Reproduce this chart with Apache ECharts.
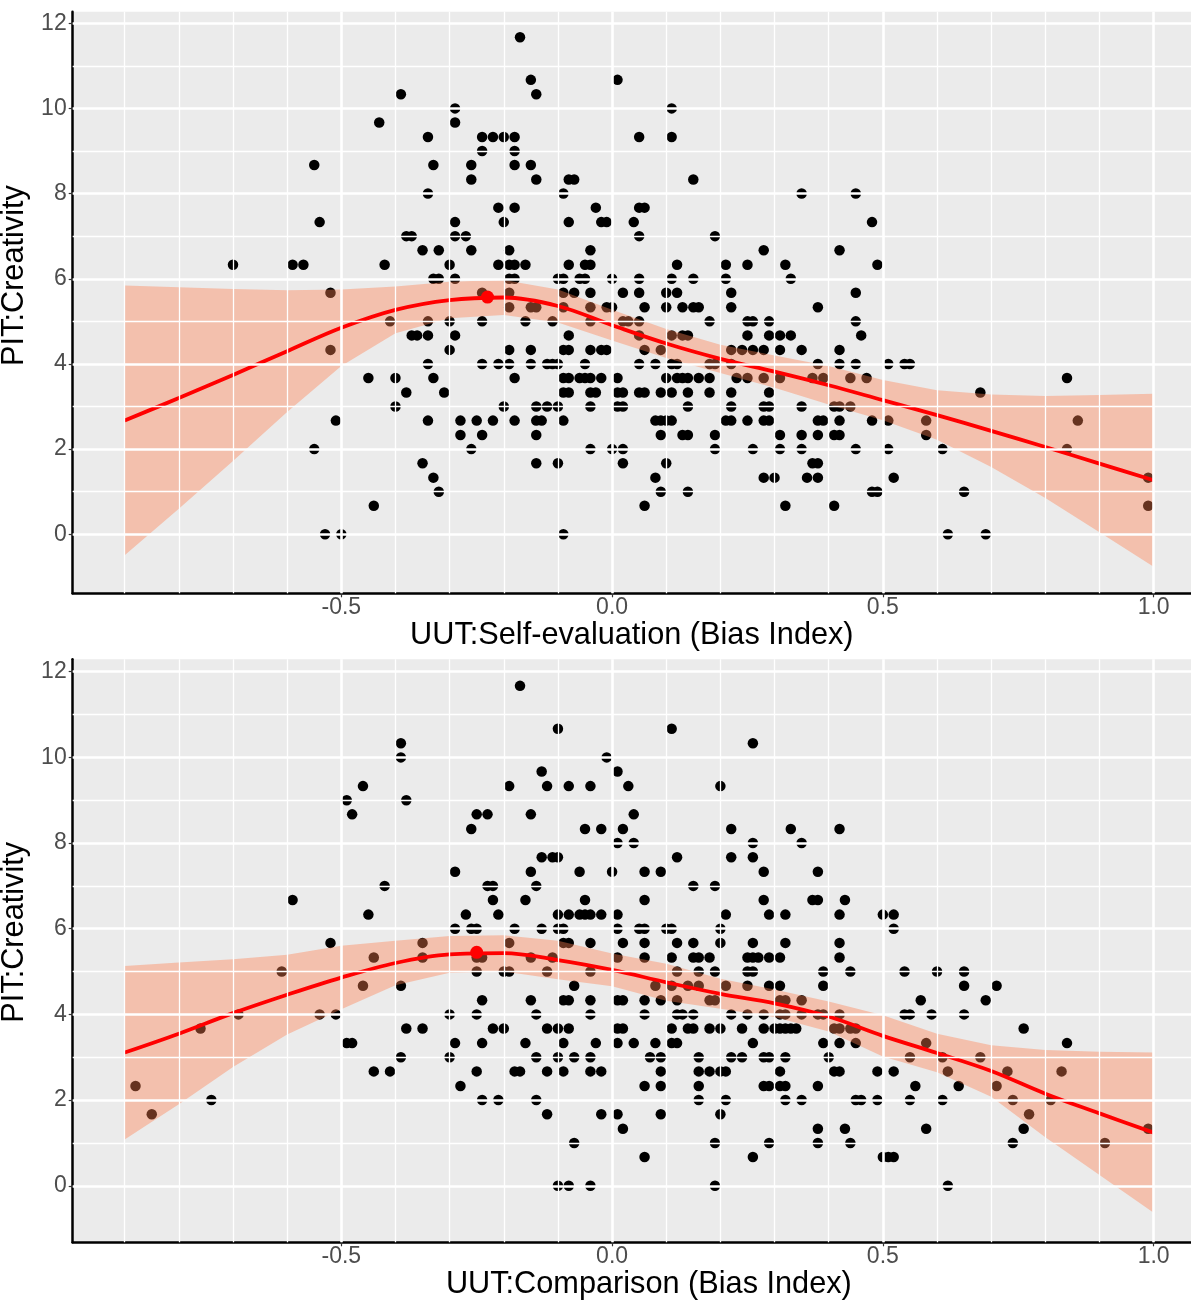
<!DOCTYPE html>
<html>
<head>
<meta charset="utf-8">
<script src="https://cdn.jsdelivr.net/npm/echarts@6/dist/echarts.min.js"></script>
<style>
html, body { margin: 0; padding: 0; background: #fff; }
#main { width: 1191px; height: 1303px; }
</style>
</head>
<body>
<div id="main"></div>
<script>
// PIT level -> bias index values of the students at that level
var selfRows = [
  [11.67, [-0.17]],
  [10.67, [-0.15, 0.01]],
  [10.33, [-0.39, -0.14]],
  [10, [-0.29, 0.11]],
  [9.67, [-0.43, -0.29]],
  [9.33, [-0.34, -0.24, -0.22, -0.2, -0.18, 0.05, 0.11]],
  [9, [-0.24, -0.18]],
  [8.67, [-0.55, -0.33, -0.26, -0.18, -0.15]],
  [8.33, [-0.26, -0.14, -0.08, -0.07, 0.15]],
  [8, [-0.34, -0.09, 0.35, 0.45]],
  [7.67, [-0.21, -0.18, -0.03, 0.05, 0.06]],
  [7.33, [-0.54, -0.29, -0.2, -0.08, -0.02, -0.01, 0.04, 0.48]],
  [7, [-0.38, -0.37, -0.29, -0.27, 0.05, 0.19]],
  [6.67, [-0.35, -0.32, -0.26, -0.19, -0.04, 0.28, 0.42]],
  [6.33, [-0.7, -0.59, -0.57, -0.42, -0.3, -0.21, -0.19, -0.18, -0.16, -0.08, -0.05, -0.04, 0.12, 0.21, 0.25, 0.32, 0.49]],
  [6, [-0.33, -0.32, -0.29, -0.19, -0.18, -0.1, -0.09, -0.06, -0.05, 0, 0.05, 0.11, 0.15, 0.21, 0.33]],
  [5.67, [-0.52, -0.24, -0.19, -0.09, -0.07, -0.04, 0.02, 0.05, 0.1, 0.12, 0.22, 0.45]],
  [5.33, [-0.19, -0.15, -0.14, -0.09, -0.04, -0.01, 0, 0.06, 0.1, 0.13, 0.15, 0.16, 0.22, 0.38]],
  [5, [-0.41, -0.34, -0.3, -0.24, -0.16, -0.11, -0.04, 0.02, 0.03, 0.05, 0.18, 0.25, 0.26, 0.29, 0.45]],
  [4.67, [-0.37, -0.36, -0.34, -0.29, -0.08, 0.05, 0.11, 0.13, 0.14, 0.25, 0.29, 0.31, 0.33, 0.46]],
  [4.33, [-0.52, -0.3, -0.19, -0.15, -0.09, -0.08, -0.04, -0.02, -0.01, 0.06, 0.09, 0.22, 0.24, 0.26, 0.28, 0.31, 0.35, 0.42]],
  [4, [-0.34, -0.24, -0.21, -0.19, -0.15, -0.12, -0.11, -0.1, -0.05, 0.05, 0.08, 0.11, 0.12, 0.18, 0.19, 0.22, 0.38, 0.42, 0.45, 0.51, 0.54, 0.55]],
  [3.67, [-0.45, -0.4, -0.33, -0.18, -0.09, -0.08, -0.06, -0.05, -0.04, -0.02, 0.01, 0.1, 0.12, 0.13, 0.14, 0.16, 0.18, 0.23, 0.25, 0.28, 0.31, 0.37, 0.39, 0.44, 0.47, 0.84]],
  [3.33, [-0.38, -0.31, -0.09, -0.08, -0.04, -0.03, 0.01, 0.02, 0.05, 0.06, 0.09, 0.11, 0.14, 0.18, 0.22, 0.29, 0.68]],
  [3, [-0.4, -0.2, -0.14, -0.12, -0.1, -0.04, 0.01, 0.02, 0.14, 0.22, 0.28, 0.29, 0.35, 0.41, 0.42, 0.44]],
  [2.67, [-0.51, -0.34, -0.28, -0.25, -0.22, -0.18, -0.14, -0.13, -0.09, 0.08, 0.09, 0.1, 0.11, 0.21, 0.22, 0.25, 0.28, 0.29, 0.38, 0.39, 0.42, 0.48, 0.51, 0.58, 0.86]],
  [2.33, [-0.28, -0.24, -0.14, 0.09, 0.13, 0.14, 0.19, 0.31, 0.35, 0.38, 0.41, 0.42, 0.58]],
  [2, [-0.55, -0.26, -0.04, 0, 0.02, 0.19, 0.26, 0.31, 0.35, 0.45, 0.51, 0.61, 0.84]],
  [1.67, [-0.35, -0.14, -0.1, 0.02, 0.1, 0.37, 0.38]],
  [1.33, [-0.33, 0.08, 0.28, 0.3, 0.36, 0.38, 0.52, 0.99]],
  [1, [-0.32, 0.09, 0.14, 0.48, 0.49, 0.65]],
  [0.67, [-0.44, 0.06, 0.32, 0.41, 0.99]],
  [0, [-0.53, -0.5, -0.09, 0.62, 0.69]]
];

var compRows = [
  [11.67, [-0.17]],
  [10.67, [-0.1, 0.11]],
  [10.33, [-0.39, 0.26]],
  [10, [-0.39, -0.01]],
  [9.67, [-0.13, 0.01]],
  [9.33, [-0.46, -0.19, -0.12, -0.08, -0.04, 0.03, 0.2]],
  [9, [-0.49, -0.38]],
  [8.67, [-0.48, -0.25, -0.23, -0.15, 0.04]],
  [8.33, [-0.26, -0.05, -0.02, 0.02, 0.22, 0.33, 0.42]],
  [8, [0.01, 0.04, 0.26, 0.35]],
  [7.67, [-0.13, -0.11, -0.1, 0.12, 0.22, 0.26]],
  [7.33, [-0.29, -0.15, -0.06, 0, 0.06, 0.09, 0.28, 0.38]],
  [7, [-0.42, -0.23, -0.22, -0.14, 0.15, 0.19]],
  [6.67, [-0.59, -0.22, -0.16, -0.05, 0.06, 0.28, 0.37, 0.38, 0.43]],
  [6.33, [-0.45, -0.27, -0.21, -0.1, -0.08, -0.06, -0.05, -0.04, -0.02, 0.01, 0.21, 0.29, 0.32, 0.42, 0.5, 0.52]],
  [6, [-0.29, -0.26, -0.25, -0.18, -0.13, -0.1, -0.09, 0.01, 0.05, 0.06, 0.1, 0.11, 0.2, 0.52]],
  [5.67, [-0.52, -0.35, -0.19, -0.09, -0.08, -0.04, 0.02, 0.06, 0.12, 0.15, 0.2, 0.26, 0.32, 0.42]],
  [5.33, [-0.44, -0.35, -0.25, -0.24, -0.15, -0.11, 0.01, 0.06, 0.11, 0.15, 0.16, 0.18, 0.25, 0.26, 0.27, 0.29, 0.31, 0.42]],
  [5, [-0.61, -0.25, -0.2, -0.19, -0.12, -0.04, 0.12, 0.16, 0.19, 0.25, 0.26, 0.39, 0.44, 0.54, 0.6, 0.65]],
  [4.67, [-0.46, -0.39, -0.07, 0.08, 0.11, 0.14, 0.16, 0.21, 0.25, 0.29, 0.31, 0.39, 0.65, 0.71]],
  [4.33, [-0.24, -0.15, -0.09, -0.08, -0.04, 0.01, 0.02, 0.06, 0.09, 0.12, 0.18, 0.19, 0.31, 0.32, 0.35, 0.57, 0.69]],
  [4, [-0.69, -0.54, -0.51, -0.3, -0.25, -0.14, -0.04, 0.06, 0.12, 0.13, 0.15, 0.22, 0.25, 0.28, 0.31, 0.32, 0.35, 0.38, 0.39, 0.42, 0.54, 0.55, 0.59, 0.65]],
  [3.67, [-0.76, -0.38, -0.35, -0.22, -0.2, -0.12, -0.1, -0.08, 0.01, 0.02, 0.11, 0.14, 0.15, 0.18, 0.2, 0.24, 0.28, 0.3, 0.31, 0.32, 0.33, 0.34, 0.41, 0.42, 0.44, 0.45, 0.76]],
  [3.33, [-0.49, -0.48, -0.29, -0.24, -0.16, -0.09, -0.03, 0.01, 0.04, 0.08, 0.11, 0.12, 0.26, 0.39, 0.42, 0.45, 0.58, 0.84]],
  [3, [-0.39, -0.3, -0.14, -0.1, -0.07, -0.04, 0.07, 0.09, 0.16, 0.22, 0.24, 0.28, 0.29, 0.32, 0.4, 0.55, 0.61, 0.68]],
  [2.67, [-0.44, -0.41, -0.25, -0.18, -0.17, -0.12, -0.09, -0.04, -0.02, 0.09, 0.16, 0.18, 0.2, 0.21, 0.31, 0.41, 0.42, 0.49, 0.52, 0.62, 0.73, 0.83]],
  [2.33, [-0.88, -0.28, 0.06, 0.09, 0.16, 0.28, 0.29, 0.31, 0.32, 0.38, 0.56, 0.64, 0.71]],
  [2, [-0.74, -0.24, -0.21, -0.14, 0.16, 0.21, 0.32, 0.35, 0.45, 0.46, 0.49, 0.55, 0.61, 0.74, 0.81]],
  [1.67, [-0.85, -0.12, -0.02, 0.01, 0.09, 0.2, 0.77]],
  [1.33, [0.02, 0.38, 0.43, 0.58, 0.76, 0.99]],
  [1, [-0.07, 0.19, 0.29, 0.38, 0.44, 0.74, 0.91]],
  [0.67, [0.06, 0.26, 0.5, 0.51, 0.52]],
  [0, [-0.1, -0.08, -0.04, 0.19, 0.62]]
];

// loess fit and its confidence band, read at these x positions
var fitX = [-0.9, -0.8, -0.7, -0.6, -0.5, -0.4, -0.3, -0.2, -0.1, 0, 0.1, 0.2, 0.3, 0.4, 0.5, 0.6, 0.7, 0.8, 0.9, 1.0];

var selfFit = [2.67, 3.2, 3.74, 4.3, 4.85, 5.27, 5.5, 5.56, 5.36, 4.91, 4.48, 4.12, 3.82, 3.5, 3.15, 2.8, 2.43, 2.05, 1.66, 1.27];
var selfHi  = [5.84, 5.8, 5.76, 5.73, 5.75, 5.82, 5.93, 5.97, 5.75, 5.27, 4.82, 4.45, 4.2, 3.95, 3.62, 3.38, 3.28, 3.25, 3.27, 3.3];
var selfLo  = [-0.49, 0.6, 1.72, 2.87, 3.95, 4.72, 5.07, 5.15, 4.97, 4.55, 4.14, 3.79, 3.44, 3.05, 2.68, 2.22, 1.58, 0.85, 0.05, -0.76];
var selfPeak = [-0.23, 5.57];

var compFit = [3.11, 3.55, 4.03, 4.46, 4.86, 5.2, 5.4, 5.43, 5.27, 5.04, 4.75, 4.48, 4.26, 3.95, 3.5, 3.1, 2.68, 2.15, 1.69, 1.24];
var compHi  = [5.13, 5.21, 5.29, 5.39, 5.6, 5.72, 5.83, 5.85, 5.72, 5.42, 5.18, 4.83, 4.58, 4.3, 3.98, 3.55, 3.28, 3.17, 3.13, 3.11];
var compLo  = [1.08, 1.9, 2.77, 3.53, 4.12, 4.68, 4.97, 5.0, 4.82, 4.66, 4.32, 4.13, 3.94, 3.6, 3.02, 2.65, 2.08, 1.13, 0.25, -0.63];
var compPeak = [-0.25, 5.45];

// axis ticks
var majorX = [-0.5, 0, 0.5, 1.0];
var minorX = [-0.9, -0.8, -0.7, -0.6, -0.4, -0.3, -0.2, -0.1, 0.1, 0.2, 0.3, 0.4, 0.6, 0.7, 0.8, 0.9];
var majorY = [0, 2, 4, 6, 8, 10, 12];
var minorY = [1, 3, 5, 7, 9, 11];

var FONT = "'Liberation Sans', Arial, sans-serif";

function toPoints(rows) {
  var out = [];
  rows.forEach(function (r) {
    r[1].forEach(function (x) { out.push([x, r[0]]); });
  });
  return out;
}

function pairs(xs, ys) {
  return xs.map(function (x, i) { return [x, ys[i]]; });
}

function gridLines(idx) {
  var data = [];
  minorX.forEach(function (v) { data.push({ xAxis: v, lineStyle: { width: 1.3 } }); });
  minorY.forEach(function (v) { data.push({ yAxis: v, lineStyle: { width: 1.3 } }); });
  majorX.forEach(function (v) { data.push({ xAxis: v, lineStyle: { width: 2.6 } }); });
  majorY.forEach(function (v) { data.push({ yAxis: v, lineStyle: { width: 2.6 } }); });
  return {
    type: 'scatter', xAxisIndex: idx, yAxisIndex: idx, data: [], z: 1, silent: true,
    markLine: {
      silent: true, symbol: ['none', 'none'], animation: false,
      label: { show: false },
      lineStyle: { color: '#ffffff', type: 'solid' },
      emphasis: { disabled: true },
      data: data
    }
  };
}

function band(idx, lo, hi) {
  return {
    type: 'custom', xAxisIndex: idx, yAxisIndex: idx, z: 3, silent: true,
    data: [[0, 0]],
    renderItem: function (params, api) {
      var pts = [];
      for (var i = 0; i < fitX.length; i++) pts.push(api.coord([fitX[i], hi[i]]));
      for (var j = fitX.length - 1; j >= 0; j--) pts.push(api.coord([fitX[j], lo[j]]));
      return { type: 'polygon', shape: { points: pts }, style: { fill: 'rgba(255,127,80,0.4)' } };
    }
  };
}

function panelSeries(idx, rows, fit, lo, hi, peak) {
  return [
    gridLines(idx),
    {
      type: 'scatter', xAxisIndex: idx, yAxisIndex: idx, z: 2, silent: true,
      symbolSize: 10.5, itemStyle: { color: '#000000', opacity: 1 },
      data: toPoints(rows)
    },
    band(idx, lo, hi),
    {
      type: 'line', xAxisIndex: idx, yAxisIndex: idx, z: 4, silent: true,
      smooth: 0.35, showSymbol: false,
      lineStyle: { color: '#ff0000', width: 3.8 },
      data: pairs(fitX, fit)
    },
    {
      type: 'scatter', xAxisIndex: idx, yAxisIndex: idx, z: 5, silent: true,
      symbolSize: 13, itemStyle: { color: '#ff0000', opacity: 1 },
      data: [peak]
    }
  ];
}

function xAxisFor(idx, name, pad, gap) {
  return {
    type: 'value', gridIndex: idx, min: -0.996, max: 1.069,
    axisLine: { show: true, onZero: false, lineStyle: { color: '#000', width: 2.5 } },
    axisTick: { show: true, length: 4, customValues: majorX, lineStyle: { color: '#333', width: 1.2 } },
    axisLabel: {
      customValues: majorX, fontSize: 23, color: '#4d4d4d', margin: 3, fontFamily: FONT,
      formatter: function (v) { return v.toFixed(1); }
    },
    splitLine: { show: false },
    name: name, nameLocation: 'middle', nameGap: gap,
    nameTextStyle: { fontSize: 30.7, color: '#000', fontFamily: FONT, padding: [0, 0, 0, pad] }
  };
}

function yAxisFor(idx, min, max, pad) {
  return {
    type: 'value', gridIndex: idx, min: min, max: max,
    axisLine: { show: true, onZero: false, lineStyle: { color: '#000', width: 2.5 } },
    axisTick: { show: true, length: 4, customValues: majorY, lineStyle: { color: '#333', width: 1.2 } },
    axisLabel: { customValues: majorY, fontSize: 23, color: '#4d4d4d', margin: 6, fontFamily: FONT },
    splitLine: { show: false },
    name: 'PIT:Creativity', nameLocation: 'middle', nameGap: 32, nameRotate: 90,
    nameTextStyle: { fontSize: 30.7, color: '#000', fontFamily: FONT, padding: [0, 0, 0, pad] }
  };
}

var chart = echarts.init(document.getElementById('main'));
var option = {
  animation: false,
  backgroundColor: '#ffffff',
  grid: [
    { left: 72.7, right: 0, top: 11.7, height: 581.6, outerBoundsMode: 'none', containLabel: false,
      show: true, backgroundColor: '#ebebeb', borderWidth: 0 },
    { left: 72.7, right: 0, top: 659.3, height: 583, outerBoundsMode: 'none', containLabel: false,
      show: true, backgroundColor: '#ebebeb', borderWidth: 0 }
  ],
  xAxis: [
    xAxisFor(0, 'UUT:Self-evaluation (Bias Index)', 0, 22),
    xAxisFor(1, 'UUT:Comparison (Bias Index)', 34, 27)
  ],
  yAxis: [
    yAxisFor(0, -1.385, 12.27, 54),
    yAxisFor(1, -1.32, 12.29, 37)
  ],
  series: panelSeries(0, selfRows, selfFit, selfLo, selfHi, selfPeak)
    .concat(panelSeries(1, compRows, compFit, compLo, compHi, compPeak))
};
chart.setOption(option);
</script>
</body>
</html>
